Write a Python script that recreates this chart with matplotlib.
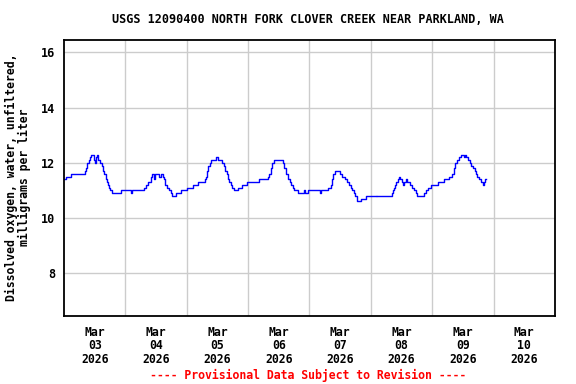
import matplotlib
matplotlib.use("Agg")
import matplotlib.pyplot as plt
import numpy as np
import datetime as dt

# dissolved oxygen, hours after 2026-03-03 00:00 where the value changes (step data)
hours = [0.0, 0.4, 0.8, 2.6, 8.2, 8.6, 9.1, 9.8, 10.2, 10.6, 11.7, 12.2, 12.5, 12.9, 13.3,
         14.1, 14.9, 15.4, 15.8, 16.3, 16.8, 17.3, 17.7, 18.2, 18.9, 22.2, 26.1, 26.6,
         31.4, 32.1, 32.7, 34.1, 34.5, 35.2, 35.7, 37.1, 37.9, 38.6, 39.2, 39.7, 40.4,
         41.0, 41.7, 42.3, 44.0, 45.9, 48.3, 50.3, 52.4, 55.0, 55.5, 55.9, 56.4, 57.0,
         57.5, 59.3, 60.3, 61.9, 62.5, 63.1, 63.6, 64.0, 64.6, 65.3, 65.9, 66.5, 68.1,
         69.5, 71.4, 76.4, 79.7, 80.3, 80.8, 81.4, 82.2, 85.5, 86.1, 86.9, 87.7, 88.3,
         88.9, 89.4, 90.0, 91.6, 93.7, 94.2, 95.6, 100.3, 100.6, 103.3, 104.3, 104.8,
         105.3, 106.1, 107.9, 108.9, 110.0, 110.8, 111.4, 112.1, 112.7, 113.4, 113.9,
         114.5, 116.2, 118.2, 122.0, 122.6, 128.1, 128.5, 129.0, 129.5, 130.0, 130.7,
         131.1, 131.5, 132.0, 132.5, 132.8, 133.7, 134.2, 135.3, 136.0, 136.8, 137.5,
         138.1, 140.9, 141.5, 142.2, 143.7, 146.3, 148.5, 150.5, 151.9, 152.4, 153.0,
         153.5, 154.3, 155.2, 156.4, 157.0, 157.4, 158.0, 158.7, 159.3, 160.0, 160.7,
         161.0, 161.7, 162.3, 163.2, 163.9, 164.3, 164.8, 165.2]
values = [11.4, 11.4, 11.5, 11.6, 11.7, 11.8, 12.0, 12.1, 12.2, 12.3, 12.1, 12.0, 12.2, 12.3, 12.1,
          12.0, 11.9, 11.7, 11.6, 11.4, 11.3, 11.2, 11.1, 11.0, 10.9, 11.0, 10.9, 11.0,
          11.1, 11.2, 11.3, 11.5, 11.6, 11.4, 11.6, 11.5, 11.6, 11.5, 11.4, 11.2, 11.1,
          11.0, 10.9, 10.8, 10.9, 11.0, 11.1, 11.2, 11.3, 11.4, 11.5, 11.7, 11.9, 12.0,
          12.1, 12.2, 12.1, 12.0, 11.9, 11.7, 11.6, 11.4, 11.3, 11.2, 11.1, 11.0, 11.1,
          11.2, 11.3, 11.4, 11.5, 11.6, 11.8, 12.0, 12.1, 12.0, 11.8, 11.6, 11.4, 11.3,
          11.2, 11.1, 11.0, 10.9, 11.0, 10.9, 11.0, 10.9, 11.0, 11.1, 11.2, 11.4,
          11.6, 11.7, 11.6, 11.5, 11.4, 11.3, 11.2, 11.1, 11.0, 10.9, 10.8,
          10.6, 10.7, 10.8, np.nan, 10.8, 10.9, 11.0, 11.1, 11.2, 11.3, 11.4,
          11.5, 11.4, 11.3, 11.2, 11.3, 11.4, 11.3, 11.2, 11.1, 11.0, 10.9,
          10.8, 10.9, 11.0, 11.1, 11.2, 11.3, 11.4, 11.5, 11.6, 11.8, 12.0,
          12.1, 12.2, 12.3, 12.2, 12.3, 12.2, 12.1, 12.0, 11.9, 11.8, 11.7,
          11.6, 11.5, 11.4, 11.3, 11.2, 11.3, 11.4, 11.4]

day_labels = ["Mar\n03\n2026", "Mar\n04\n2026", "Mar\n05\n2026", "Mar\n06\n2026",
              "Mar\n07\n2026", "Mar\n08\n2026", "Mar\n09\n2026", "Mar\n10\n2026"]
y_ticks = [8, 10, 12, 14, 16]

start = dt.datetime(2026, 3, 3)
times = [start + dt.timedelta(hours=h) for h in hours]

plt.rcParams['font.family'] = 'DejaVu Sans Mono'
plt.rcParams['font.weight'] = 'bold'

fig = plt.figure(figsize=(5.76, 3.84), dpi=100)
ax = fig.add_axes([0.111, 0.177, 0.8525, 0.719])

ax.step(times, values, where='post', color='#0000ff', linewidth=1)

ax.set_xlim(start, start + dt.timedelta(days=8))
ax.set_ylim(6.45, 16.45)

# gridlines at midnight, labels at noon
midnights = [start + dt.timedelta(days=d) for d in range(1, 8)]
noons = [start + dt.timedelta(days=d, hours=12) for d in range(8)]
ax.set_xticks(midnights, minor=True)
ax.set_xticks(noons)
ax.set_xticklabels(day_labels, fontsize=8.3, fontweight='bold', linespacing=1.05)
ax.set_yticks(y_ticks)
ax.set_yticklabels([str(t) for t in y_ticks], fontsize=8.5, fontweight='bold')
ax.grid(True, which='minor', axis='x', color='#cccccc', linewidth=1)
ax.grid(True, which='major', axis='y', color='#cccccc', linewidth=1)
ax.tick_params(which='both', length=0, pad=6)
ax.tick_params(axis='x', pad=7)
for s in ax.spines.values():
    s.set_linewidth(1.3)

fig.text(0.535, 0.948, "USGS 12090400 NORTH FORK CLOVER CREEK NEAR PARKLAND, WA",
         ha='center', va='center', fontsize=8.5, fontweight='bold')
fig.text(0.031, 0.539, "Dissolved oxygen, water, unfiltered,\nmilligrams per liter",
         ha='center', va='center', rotation=90, fontsize=8.3, fontweight='bold',
         multialignment='center', linespacing=1.0)
fig.text(0.535, 0.023, "---- Provisional Data Subject to Revision ----",
         ha='center', va='center', fontsize=8.3, fontweight='bold', color='red')

fig.savefig("out.png", dpi=100)
